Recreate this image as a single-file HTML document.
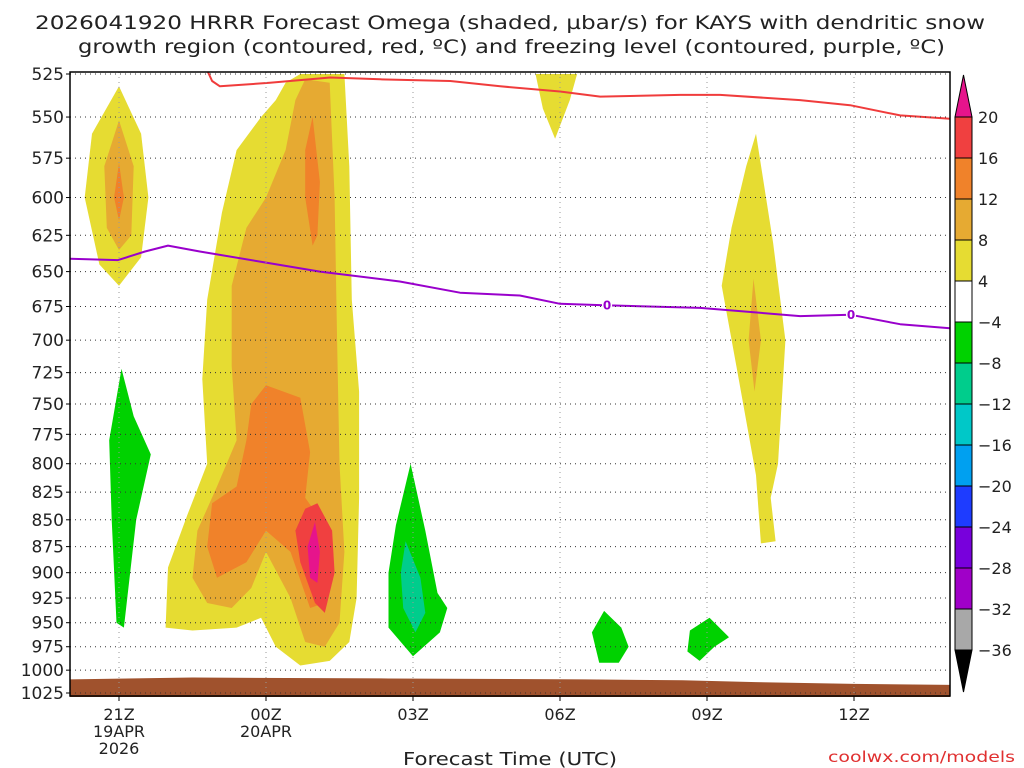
<!DOCTYPE html>
<html><head><meta charset="utf-8"><style>
body{margin:0;background:#fff;width:1024px;height:768px;overflow:hidden}
svg{display:block;font-family:"DejaVu Sans","Liberation Sans",sans-serif}
</style></head><body>
<svg id="chart" width="1024" height="768" viewBox="0 0 1024 768" xmlns="http://www.w3.org/2000/svg">
<text x="35" y="29" font-size="19" fill="#222" textLength="950" lengthAdjust="spacingAndGlyphs">2026041920 HRRR Forecast Omega (shaded, µbar/s) for KAYS with dendritic snow</text>
<text x="78" y="53" font-size="19" fill="#222" textLength="867" lengthAdjust="spacingAndGlyphs">growth region (contoured, red, ºC) and freezing level (contoured, purple, ºC)</text>
<g id="plot"></g>
<text x="403" y="765" font-size="18" fill="#222" textLength="214" lengthAdjust="spacingAndGlyphs">Forecast Time (UTC)</text>
<text x="828" y="762" font-size="15" fill="#e03030" textLength="187" lengthAdjust="spacingAndGlyphs">coolwx.com/models</text>
</svg>
<script>
// ---- data ----
const pressureTicks = [525,550,575,600,625,650,675,700,725,750,775,800,825,850,875,900,925,950,975,1000,1025];
const timeTicks = [1,4,7,10,13,16];
const timeLabels = [["21Z","19APR","2026"],["00Z","20APR"],["03Z"],["06Z"],["09Z"],["12Z"]];
const cbarLevels = ["20","16","12","8","4","\u22124","\u22128","\u221212","\u221216","\u221220","\u221224","\u221228","\u221232","\u221236"];
const cbarColors = ["#f04040","#f0822a","#e6aa32","#e6dc32","#ffffff","#00d200","#00cd8c","#00c8c8","#00a0f0","#1e3cff","#7800dc","#a000c8","#a8a8a8"];
const yellowMainH = [4.7,5.6,5.7,5.75,5.9,5.9,5.85,5.7,5.3,4.7,4.2,3.9,3.4,2.5,1.95,2.0,2.4,2.8,2.7,2.8,3.1,3.4,3.9,4.2,4.4];
const yellowMainP = [525,525,580,670,740,830,925,970,990,995,975,945,955,958,955,895,845,800,730,670,610,570,550,540,530];
const orangeMainH = [4.8,5.3,5.4,5.45,5.5,5.6,5.5,5.2,4.8,4.5,4.0,3.7,3.3,2.8,2.5,2.6,3.0,3.4,3.3,3.3,3.6,4.0,4.4,4.6];
const orangeMainP = [528,530,600,700,800,880,950,975,970,925,880,915,935,930,905,860,820,780,720,660,620,600,570,540];
const dkOrangeLowH = [4.0,4.7,4.9,4.8,5.2,5.3,5.2,4.9,4.5,4.0,3.6,3.0,2.8,2.9,3.4,3.6,3.7];
const dkOrangeLowP = [735,745,790,830,855,900,930,935,880,860,890,905,875,835,820,780,750];
const dkOrangeUpH = [4.95,5.1,5.05,4.95,4.8,4.8];
const dkOrangeUpP = [550,590,625,632,600,570];
const redCoreH = [5.05,5.35,5.4,5.2,5.0,4.7,4.6,4.8];
const redCoreP = [835,860,900,940,930,890,860,840];
const magCoreH = [5.0,5.1,5.05,4.9,4.85];
const magCoreP = [852,880,910,905,875];
const yellowLeftH = [1.0,1.45,1.6,1.45,1.0,0.6,0.3,0.45];
const yellowLeftP = [532,560,600,640,660,645,600,560];
const orangeLeftH = [1.0,1.3,1.25,1.0,0.75,0.7];
const orangeLeftP = [552,580,625,635,620,580];
const dkOrangeLeftH = [1.0,1.1,1.0,0.9];
const dkOrangeLeftP = [578,600,615,600];
const greenLeftH = [1.05,1.3,1.65,1.35,1.1,0.95,0.85,0.8];
const greenLeftP = [722,760,792,850,955,950,850,780];
const green03H = [6.95,7.25,7.5,7.7,7.55,7.0,6.5,6.5,6.65];
const green03P = [800,860,920,935,960,985,955,900,855];
const teal03H = [6.85,7.15,7.25,7.05,6.8,6.75];
const teal03P = [870,905,940,960,935,900];
const yellow06H = [9.5,10.35,10.2,9.9,9.65];
const yellow06P = [525,525,540,563,545];
const green07H = [10.9,11.25,11.4,11.2,10.8,10.65];
const green07P = [938,955,975,992,992,960];
const green09H = [13.05,13.45,13.15,12.85,12.6,12.65];
const green09P = [945,965,975,990,980,958];
const yellowRightH = [14.0,14.35,14.6,14.45,14.3,14.4,14.1,14.0,13.6,13.3,13.5,13.8];
const yellowRightP = [560,630,700,800,830,870,872,810,720,660,620,580];
const orangeRightH = [13.95,14.1,13.97,13.85];
const orangeRightP = [655,700,740,700];
const dgzH = [2.75,2.9,3.06,4.08,5.31,6.33,7.76,8.78,10.0,10.82,12.45,13.27,14.9,15.92,16.94,17.96];
const dgzP = [520,529,532,530,527,528,529,532,535,538,537,537,540,543,549,551];
const frzH = [0,0.98,1.53,2.0,2.65,3.88,5.1,6.73,7.96,9.18,10.0,10.82,12.86,14.9,15.92,16.94,17.96];
const frzP = [641,642,636,632,636,643,650,657,665,667,673,674,676,682,681,688,691];
const frzLabelH = [10.96,15.94];
const sfcH = [0,2.5,6.5,10.5,12.5,14,16,18];
const sfcP = [1010,1008,1009,1010,1011,1013,1015,1016];

// ---- axes ----
const X0=70,X1=950,Y0=74,Y1=693,PX=49;
const xS = h => X0 + h*PX;
const yS = p => Y0 + (Math.log(p)-Math.log(525))/(Math.log(1025)-Math.log(525))*(Y1-Y0);
const NS="http://www.w3.org/2000/svg";
const plot=document.getElementById('plot');
function mk(tag,attrs,parent){const e=document.createElementNS(NS,tag);for(const k in attrs)e.setAttribute(k,attrs[k]);(parent||plot).appendChild(e);return e;}
const clip=mk('clipPath',{id:'pc'});mk('rect',{x:X0,y:72,width:X1-X0,height:Y1-72+4},clip);
const g=mk('g',{'clip-path':'url(#pc)'});

function area(name,color,H,P){
  const pts=H.map((h,i)=>xS(h).toFixed(1)+','+yS(P[i]).toFixed(1)).join(' ');
  const e=mk('polygon',{points:pts,fill:color,stroke:'none'},g);
  
  
}
area('omega-4-8-main','#e6dc32',yellowMainH,yellowMainP);
area('omega-8-12-main','#e6aa32',orangeMainH,orangeMainP);
area('omega-12-16-low','#f0822a',dkOrangeLowH,dkOrangeLowP);
area('omega-12-16-up','#f0822a',dkOrangeUpH,dkOrangeUpP);
area('omega-16-20-core','#f04040',redCoreH,redCoreP);
area('omega-20plus-core','#e6148c',magCoreH,magCoreP);
area('omega-4-8-left','#e6dc32',yellowLeftH,yellowLeftP);
area('omega-8-12-left','#e6aa32',orangeLeftH,orangeLeftP);
area('omega-12-16-left','#f0822a',dkOrangeLeftH,dkOrangeLeftP);
area('omega-neg-left','#00d200',greenLeftH,greenLeftP);
area('omega-neg-03z','#00d200',green03H,green03P);
area('omega-neg8-03z','#00cd8c',teal03H,teal03P);
area('omega-4-8-06z','#e6dc32',yellow06H,yellow06P);
area('omega-neg-07z','#00d200',green07H,green07P);
area('omega-neg-09z','#00d200',green09H,green09P);
area('omega-4-8-right','#e6dc32',yellowRightH,yellowRightP);
area('omega-8-12-right','#e6aa32',orangeRightH,orangeRightP);

pressureTicks.forEach(p=>{const l=mk('line',{x1:X0,x2:X1,y1:yS(p),y2:yS(p),stroke:'#333','stroke-width':1,'stroke-dasharray':'1,4'});

});
timeTicks.forEach(h=>{const l=mk('line',{x1:xS(h),x2:xS(h),y1:72,y2:Y1,stroke:'#999','stroke-width':1,'stroke-dasharray':'1,4'});

});

{let d='M'+xS(sfcH[0])+','+(Y1+5);sfcH.forEach((h,i)=>{d+=' L'+xS(h)+','+yS(sfcP[i]);});d+=' L'+xS(sfcH[sfcH.length-1])+','+(Y1+5)+'Z';
const t=mk('path',{d:d,fill:'#a0522d'},g);

}

function line(name,color,H,P){
  const pts=H.map((h,i)=>xS(h).toFixed(1)+','+yS(P[i]).toFixed(1)).join(' ');
  const e=mk('polyline',{points:pts,fill:'none',stroke:color,'stroke-width':2,'stroke-linejoin':'round'},g);
  
  
}
line('dgz-contour','#f03c3c',dgzH,dgzP);
line('freezing-level-contour','#9900cc',frzH,frzP);
function interp(H,P,h){for(let i=1;i<H.length;i++)if(h<=H[i]){const f=(h-H[i-1])/(H[i]-H[i-1]);return P[i-1]+f*(P[i]-P[i-1]);}return P[P.length-1];}
frzLabelH.forEach(h=>{const t=mk('text',{x:xS(h),y:yS(interp(frzH,frzP,h))+4,'text-anchor':'middle','font-size':12,'font-weight':'bold',fill:'#9900cc',stroke:'#fff','stroke-width':3,'paint-order':'stroke'});t.textContent='0';

});

const fr=mk('rect',{x:X0,y:72,width:X1-X0,height:Y1-72+3,fill:'none',stroke:'#000','stroke-width':1.5});



pressureTicks.forEach(p=>{const t=mk('text',{x:64,y:yS(p)+6,'text-anchor':'end','font-size':17,fill:'#222'});t.textContent=p;


mk('line',{x1:X0-4,x2:X0,y1:yS(p),y2:yS(p),stroke:'#000'});});
timeTicks.forEach((h,i)=>{timeLabels[i].forEach((s,j)=>{const t=mk('text',{x:xS(h),y:720+j*17,'text-anchor':'middle','font-size':16,fill:'#222'});t.textContent=s;

});
mk('line',{x1:xS(h),x2:xS(h),y1:Y1+3,y2:Y1+8,stroke:'#000'});});

const CB0=955,CBW=17,CT=117,SEG=41;
const cb=mk('g',{});
mk('polygon',{points:`${CB0},${CT} ${CB0+CBW},${CT} ${CB0+CBW/2},${CT-42}`,fill:'#e6148c',stroke:'#000'},cb);
cbarColors.forEach((c,i)=>{const r=mk('rect',{x:CB0,y:CT+i*SEG,width:CBW,height:SEG,fill:c,stroke:'#000','stroke-width':1},cb);

});
const CBB=CT+cbarColors.length*SEG;
mk('polygon',{points:`${CB0},${CBB} ${CB0+CBW},${CBB} ${CB0+CBW/2},${CBB+42}`,fill:'#000',stroke:'#000'},cb);
cbarLevels.forEach((s,i)=>{const t=mk('text',{x:CB0+CBW+6,y:CT+i*SEG+6,'font-size':16,fill:'#222'},cb);t.textContent=s;

});
</script>
</body></html>
